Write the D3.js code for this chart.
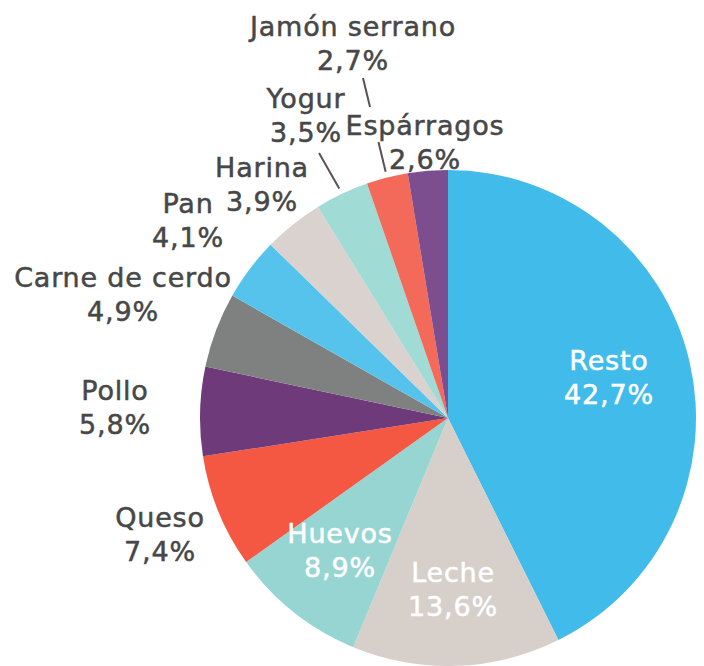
<!DOCTYPE html>
<html>
<head>
<meta charset="utf-8">
<script src="https://cdn.jsdelivr.net/npm/d3@7"></script>
<style>
  html, body { margin: 0; padding: 0; background: #ffffff; }
</style>
</head>
<body>
<div id="vis"></div>
<script>
// Frame size
const FRAME_WIDTH = 704;
const FRAME_HEIGHT = 666;

// Data (percent)
const CATEGORIES = ["Resto", "Leche", "Huevos", "Queso", "Pollo", "Carne de cerdo",
                    "Pan", "Harina", "Yogur", "Jamón serrano", "Espárragos"];
const VALUES = [42.7, 13.6, 8.9, 7.4, 5.8, 4.9, 4.1, 3.9, 3.5, 2.7, 2.6];
const VALUE_LABELS = ["42,7%", "13,6%", "8,9%", "7,4%", "5,8%", "4,9%",
                      "4,1%", "3,9%", "3,5%", "2,7%", "2,6%"];
const COLORS = ["#41bbea", "#d6cfca", "#96d5d2", "#f45843", "#6e3a7a", "#7f8080",
                "#56c3ec", "#d9d2ce", "#a1dbd6", "#f46a5a", "#7d4e8f"];

// Layout: label anchor (center x, first baseline y) and whether it sits inside the slice
const LABEL_POS = [
  {x: 609, y: 370, inside: true},
  {x: 453, y: 582, inside: true},
  {x: 340, y: 543, inside: true},
  {x: 160, y: 527, inside: false},
  {x: 115, y: 400, inside: false},
  {x: 123, y: 287, inside: false},
  {x: 188, y: 213, inside: false},
  {x: 262, y: 177, inside: false},
  {x: 306, y: 108, inside: false},
  {x: 353, y: 36, inside: false},
  {x: 425, y: 135, inside: false}
];
const LINE_GAP = 34;

const CX = 448, CY = 418, RADIUS = 248;

const svg = d3.select("#vis")
  .append("svg")
    .attr("width", FRAME_WIDTH)
    .attr("height", FRAME_HEIGHT);

const data = CATEGORIES.map((c, i) => ({name: c, value: VALUES[i], label: VALUE_LABELS[i], i: i}));

const pie = d3.pie()
  .sort(null)
  .value((d) => d.value);

const arc = d3.arc()
  .innerRadius(0)
  .outerRadius(RADIUS);

const arcs = pie(data);

// Slices
svg.append("g")
    .attr("transform", "translate(" + CX + "," + CY + ")")
  .selectAll("path")
  .data(arcs)
  .enter()
  .append("path")
    .attr("d", arc)
    .attr("fill", (d) => COLORS[d.data.i]);

// Leader lines: from label toward the slice's mid angle, just outside the rim.
// gap = y range where the line is broken (passes behind another label)
function rimPoint(d, r) {
  const a = (d.startAngle + d.endAngle) / 2;
  return [CX + r * Math.sin(a), CY - r * Math.cos(a)];
}
const leaders = [
  {i: 8, from: [319, 153], gap: null},
  {i: 9, from: [363, 78], gap: [107, 142]}
];
const segments = [];
leaders.forEach((l) => {
  const to = rimPoint(arcs[l.i], RADIUS + 6);
  const at = (y) => {
    const t = (y - l.from[1]) / (to[1] - l.from[1]);
    return [l.from[0] + t * (to[0] - l.from[0]), y];
  };
  if (l.gap) {
    segments.push([l.from, at(l.gap[0])]);
    segments.push([at(l.gap[1]), to]);
  } else {
    segments.push([l.from, to]);
  }
});
svg.append("g")
  .selectAll("line")
  .data(segments)
  .enter()
  .append("line")
    .attr("x1", (d) => d[0][0])
    .attr("y1", (d) => d[0][1])
    .attr("x2", (d) => d[1][0])
    .attr("y2", (d) => d[1][1])
    .attr("stroke", "#5b5151")
    .attr("stroke-width", 2);

// Labels
const labels = svg.append("g")
  .selectAll("text")
  .data(data)
  .enter()
  .append("text")
    .attr("text-anchor", "middle")
    .attr("font-family", "'DejaVu Sans', sans-serif")
    .attr("font-size", "27px")
    .attr("letter-spacing", "0.8px")
    .attr("fill", (d) => LABEL_POS[d.i].inside ? "#ffffff" : "#474747")
    .attr("stroke", (d) => LABEL_POS[d.i].inside ? "#ffffff" : "#474747")
    .attr("stroke-width", 0.5);

labels.append("tspan")
    .attr("x", (d) => LABEL_POS[d.i].x)
    .attr("y", (d) => LABEL_POS[d.i].y)
    .text((d) => d.name);

labels.append("tspan")
    .attr("x", (d) => LABEL_POS[d.i].x)
    .attr("y", (d) => LABEL_POS[d.i].y + LINE_GAP)
    .text((d) => d.label);
</script>
</body>
</html>
